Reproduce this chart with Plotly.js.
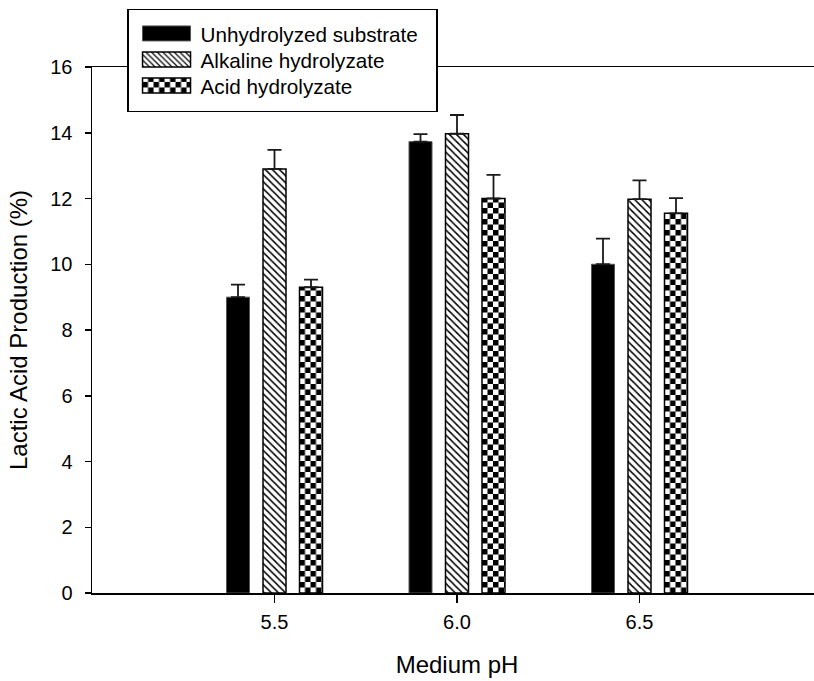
<!DOCTYPE html>
<html><head><meta charset="utf-8">
<script src="https://cdn.plot.ly/plotly-3.0.1.min.js"></script>
<style>html,body{margin:0;padding:0;overflow:hidden;background:#fff}#chart{width:830px;height:681px}</style>
</head><body><div id="chart"></div>
<script>
const phValues = [5.5, 6.0, 6.5];
const tickLabels = ['5.5', '6.0', '6.5'];
const seriesNames = ['Unhydrolyzed substrate', 'Alkaline hydrolyzate', 'Acid hydrolyzate'];
const unhydrolyzed = [9.0, 13.73, 10.0];
const unhydrolyzedErr = [0.38, 0.23, 0.78];
const alkaline = [12.9, 13.97, 11.98];
const alkalineErr = [0.58, 0.57, 0.57];
const acid = [9.3, 12.0, 11.55];
const acidErr = [0.23, 0.72, 0.46];
const yTicks = [0, 2, 4, 6, 8, 10, 12, 14, 16];
const zeros = [0, 0, 0];

function errSpec(arr) {
  return {type: 'data', symmetric: false, array: arr, arrayminus: zeros,
          color: '#1a1a1a', thickness: 1.8, width: 7};
}

const traces = [
  {type: 'bar', name: seriesNames[0], x: phValues, y: unhydrolyzed,
   marker: {color: '#000', line: {color: '#555', width: 1}},
   error_y: errSpec(unhydrolyzedErr)},
  {type: 'bar', name: seriesNames[1], x: phValues, y: alkaline,
   marker: {color: '#fff', line: {color: '#000', width: 1.5},
            pattern: {shape: '\\', fgcolor: '#000', bgcolor: '#fff', size: 5, solidity: 0.3}},
   error_y: errSpec(alkalineErr)},
  {type: 'bar', name: seriesNames[2], x: phValues, y: acid,
   marker: {color: '#fff', line: {color: '#000', width: 1.5},
            pattern: {shape: 'x', fgcolor: '#000', bgcolor: '#fff', size: 8, solidity: 0.3}},
   error_y: errSpec(acidErr)}
];

const FONT = 'Liberation Sans, Arial, Helvetica, sans-serif';
const layout = {
  width: 830, height: 681,
  margin: {l: 92, r: 8, t: 67, b: 88},
  paper_bgcolor: '#fff', plot_bgcolor: '#fff',
  font: {family: FONT, color: '#000'},
  barmode: 'group', bargap: 0.4, bargroupgap: 0.37,
  showlegend: true,
  xaxis: {
    range: [5, 7], tickmode: 'array', tickvals: phValues, ticktext: tickLabels,
    ticks: 'outside', ticklen: 8, tickwidth: 1.5, tickcolor: '#000',
    showline: true, linecolor: '#000', linewidth: 1.5, mirror: true,
    showgrid: false, zeroline: false, tickfont: {size: 20},
    ticklabelstandoff: 2,
    title: {text: 'Medium pH', font: {size: 24}, standoff: 24}
  },
  yaxis: {
    range: [0, 16], tickmode: 'array', tickvals: yTicks,
    ticks: 'outside', ticklen: 6, tickwidth: 1.5, tickcolor: '#000',
    showline: true, linecolor: '#000', linewidth: 1.5,
    showgrid: false, zeroline: false, tickfont: {size: 20},
    ticklabelstandoff: 8,
    title: {text: 'Lactic Acid Production (%)', font: {size: 24}, standoff: 16}
  },
  legend: {
    x: 0.048, y: 1.1103, xanchor: 'left', yanchor: 'top',
    bgcolor: '#fff', bordercolor: '#000', borderwidth: 1.5,
    font: {size: 20.7, family: FONT}, itemwidth: 62, traceorder: 'normal', tracegroupgap: 0
  }
};

const gd = document.getElementById('chart');
Plotly.newPlot(gd, traces, layout, {staticPlot: true, displayModeBar: false}).then(function () {
  const ns = 'http://www.w3.org/2000/svg';
  let counter = 0;
  function checker(paths) {
    paths.forEach(function (p) {
      const f = p.style.fill || p.getAttribute('fill') || '';
      const m = /url\(["']?#([^"')]+)["']?\)/.exec(f);
      if (!m) return;
      const old = document.getElementById(m[1]);
      if (!old) return;
      const bb = p.getBBox();
      const s = 11, h = 5.5;
      const pat = document.createElementNS(ns, 'pattern');
      const id = 'checker' + (counter++);
      pat.setAttribute('id', id);
      pat.setAttribute('patternUnits', 'userSpaceOnUse');
      pat.setAttribute('width', s); pat.setAttribute('height', s);
      pat.setAttribute('x', bb.x); pat.setAttribute('y', bb.y + bb.height);
      const rects = [[0, 0, s, s, '#fff'], [0, 0, h, h, '#000'], [h, h, h, h, '#000']];
      rects.forEach(function (r) {
        const e = document.createElementNS(ns, 'rect');
        e.setAttribute('x', r[0]); e.setAttribute('y', r[1]);
        e.setAttribute('width', r[2]); e.setAttribute('height', r[3]);
        e.setAttribute('fill', r[4]);
        pat.appendChild(e);
      });
      old.parentNode.appendChild(pat);
      p.style.fill = 'url(#' + id + ')';
    });
  }
  const barTraces = gd.querySelectorAll('.barlayer .trace.bars');
  if (barTraces[2]) checker(Array.from(barTraces[2].querySelectorAll('.point path')));
  const legend = gd.querySelector('.legend');
  const legItems = legend.querySelectorAll('.traces');
  let y0 = null;
  legItems.forEach(function (it, i) {
    it.querySelectorAll('.legendpoints path').forEach(function (p) {
      p.setAttribute('d', 'M26,7.5H-22V-7.5H26Z');
    });
    const t = it.getAttribute('transform') || '';
    const m = /translate\(\s*([-\d.e]+)[\s,]+([-\d.e]+)\s*\)/.exec(t);
    if (m) {
      const x = +m[1], y = +m[2];
      if (y0 === null) y0 = y;
      it.setAttribute('transform', 'translate(' + x + ',' + (y0 + 3 + i * 26) + ')');
    }
  });
  const bg = legend.querySelector('rect.bg');
  if (bg) { bg.setAttribute('width', 309); bg.setAttribute('height', 102); }
  if (legItems[2]) checker(Array.from(legItems[2].querySelectorAll('.legendpoints path')));
});
</script>
</body></html>
